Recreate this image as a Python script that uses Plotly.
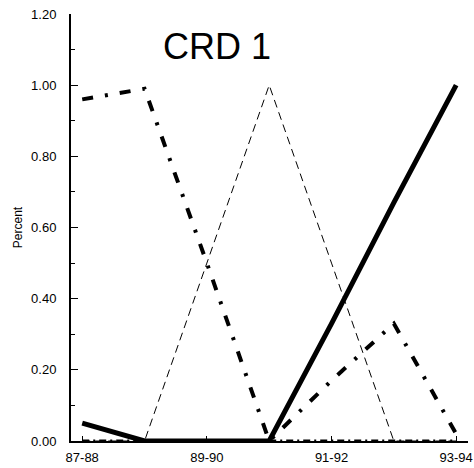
import plotly.graph_objects as go

years = ["87-88", "88-89", "89-90", "90-91", "91-92", "92-93", "93-94"]
tick_years = ["87-88", "89-90", "91-92", "93-94"]
solid_vals = [0.05, 0.0, 0.0, 0.0, 0.33, 0.67, 1.0]
dashdot_vals = [0.96, 0.99, 0.50, 0.0, 0.17, 0.33, 0.02]
dashed_vals = [0.0, 0.0, 0.50, 1.0, 0.50, 0.0, 0.0]
zero_vals = [0.0, 0.0, 0.0, 0.0, 0.0, 0.0, 0.0]
y_ticks = [0.0, 0.2, 0.4, 0.6, 0.8, 1.0, 1.2]
y_labels = ["0.00", "0.20", "0.40", "0.60", "0.80", "1.00", "1.20"]

fig = go.Figure()
fig.add_trace(go.Scatter(x=years, y=zero_vals, mode="lines",
                         line=dict(color="black", width=3, dash="7px,4px,2px,4px")))
fig.add_trace(go.Scatter(x=years, y=dashed_vals, mode="lines",
                         line=dict(color="black", width=1, dash="8px,5px")))
fig.add_trace(go.Scatter(x=years, y=dashdot_vals, mode="lines",
                         line=dict(color="black", width=4, dash="11px,12px,3px,12px")))
fig.add_trace(go.Scatter(x=years, y=solid_vals, mode="lines",
                         line=dict(color="black", width=5)))

tick_font = dict(family="Liberation Sans, Arial", size=13, color="black")

fig.update_layout(
    width=474, height=468,
    margin=dict(l=71, r=6, t=14, b=27),
    paper_bgcolor="white", plot_bgcolor="white",
    showlegend=False,
    font=dict(family="Liberation Sans, Arial", color="black"),
    xaxis=dict(
        type="category", categoryorder="array", categoryarray=years,
        range=[-0.18, 6.19], automargin=False,
        tickmode="array", tickvals=tick_years, ticktext=tick_years,
        ticks="inside", ticklen=5, tickcolor="black",
        showline=True, linecolor="black", linewidth=2,
        showgrid=False, zeroline=False,
        tickfont=tick_font, ticklabelstandoff=3,
    ),
    yaxis=dict(
        range=[0, 1.2], automargin=False,
        tickmode="array", tickvals=y_ticks, ticktext=y_labels,
        ticks="inside", ticklen=7, tickcolor="black",
        minor=dict(dtick=0.1, ticks="inside", ticklen=4, tickcolor="black", showgrid=False),
        showline=True, linecolor="black", linewidth=2,
        showgrid=False, zeroline=False,
        tickfont=tick_font, ticklabelstandoff=10,
        title=dict(text="Percent", font=dict(family="Liberation Sans, Arial", size=12, color="black"), standoff=6),
    ),
    annotations=[dict(text="CRD 1", x=0.368, y=0.924, xref="paper", yref="paper",
                      xanchor="center", yanchor="middle", showarrow=False,
                      font=dict(family="Liberation Sans, Arial", size=36, color="black"))],
)

fig.write_html("out.html", config={"displayModeBar": False})

with open("out.html", "r", encoding="utf-8") as f:
    html = f.read()
html = html.replace("<head>", "<head><style>html,body{margin:0;padding:0;overflow:hidden;}</style>", 1)
with open("out.html", "w", encoding="utf-8") as f:
    f.write(html)
